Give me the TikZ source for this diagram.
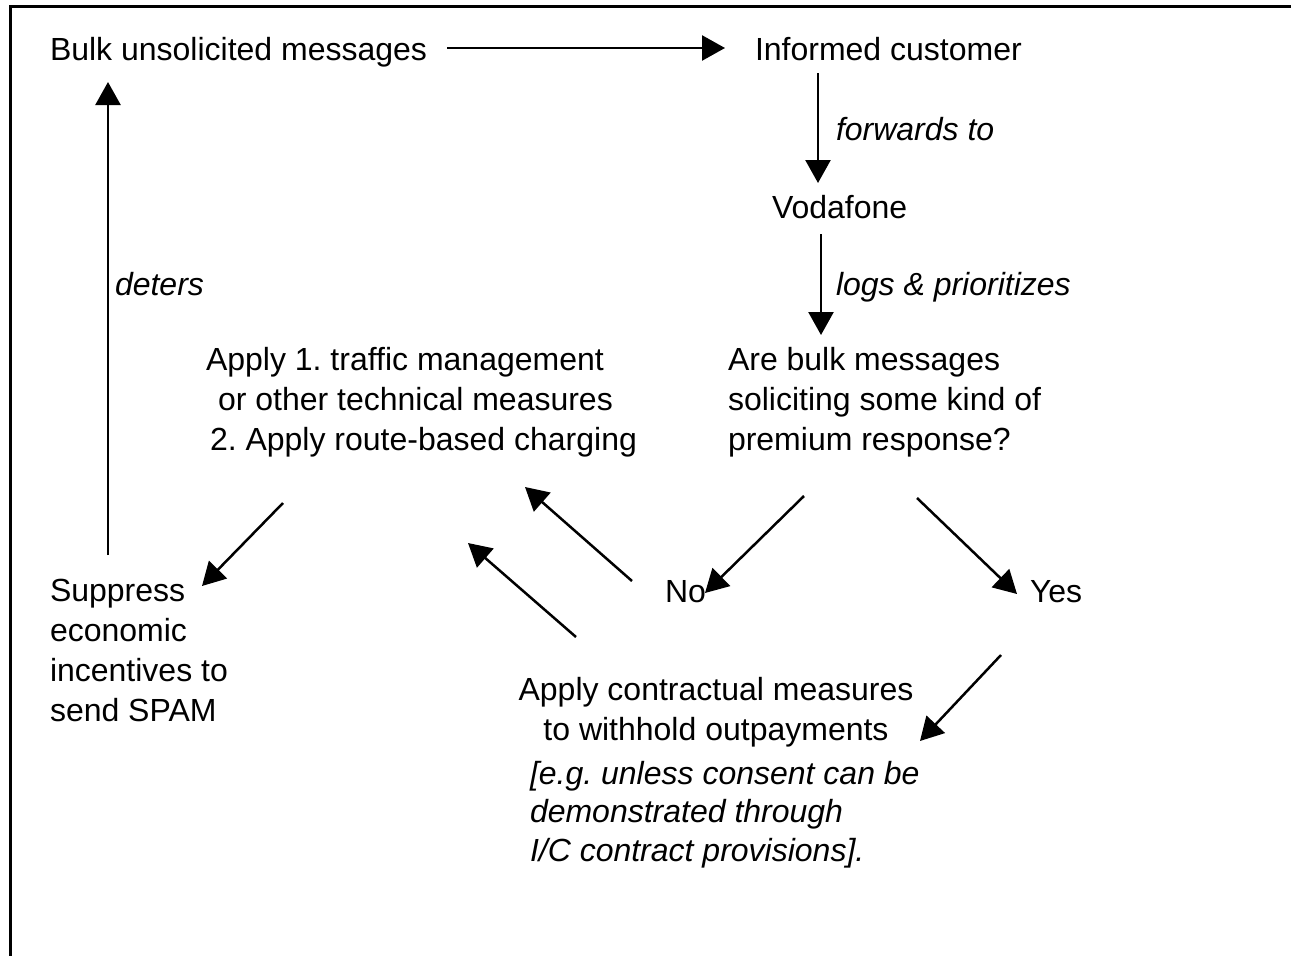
\documentclass[tikz,border=0pt]{standalone}
\usepackage{fontspec}
\setmainfont{Liberation Sans}
\usetikzlibrary{arrows.meta}
\frenchspacing
\begin{document}
\begin{tikzpicture}[x=1pt,y=-1pt,
  txt/.style={inner sep=0pt,outer sep=0pt,font=\fontsize{32}{40}\selectfont},
  itx/.style={txt,font=\fontsize{32}{40}\selectfont\itshape},
  flow/.style={line width=2.5pt,-{Triangle[length=23pt,width=25pt]}}]
\useasboundingbox (0,0) rectangle (1291,956);
% frame along the left and top edges
\draw[line width=3pt] (10,956) -- (10,6.5) -- (1291,6.5);

% texts
\node[txt,anchor=base west] (bulk) at (50,60) {Bulk unsolicited messages};
\node[txt,anchor=base west] (cust) at (755,60) {Informed customer};
\node[itx,anchor=base west] (fwd) at (836,140) {forwards to};
\node[txt,anchor=base west] (voda) at (772,218) {Vodafone};
\node[itx,anchor=base west] (logs) at (836,295) {logs \& prioritizes};
\node[itx,anchor=base west] (deters) at (115,295) {deters};
\node[txt,anchor=north west,align=left] (quest) at (728,347)
  {Are bulk messages\\soliciting some kind of\\premium response?};
\node[txt,anchor=north west,align=left] (tech) at (206,347)
  {Apply 1. traffic management\\\hspace*{12pt}or other technical measures\\\hspace*{4pt}2. Apply route-based charging};
\node[txt,anchor=north west,align=left] (supp) at (50,579)
  {Suppress\\economic\\incentives to\\send SPAM};
\node[txt,anchor=base west] (no) at (665,602) {No};
\node[txt,anchor=base west] (yes) at (1030,602) {Yes};
\node[txt,anchor=north,align=center] (contr) at (716,677)
  {Apply contractual measures\\to withhold outpayments};
\node[txt,anchor=north west,align=left,font=\fontsize{32}{38.5}\selectfont\itshape] (eg) at (530,761)
  {[e.g. unless consent can be\\demonstrated through\\I/C contract provisions].};

% connector end points
\coordinate (h1) at (447,48);   \coordinate (h2) at (725,48);
\coordinate (v1) at (818,73);   \coordinate (v2) at (818,183);
\coordinate (v3) at (821,234);  \coordinate (v4) at (821,335);
\coordinate (l1) at (108,555);  \coordinate (l2) at (108,82);
\coordinate (s1) at (283,503);  \coordinate (s2) at (202,586);
\coordinate (n1) at (632,581);  \coordinate (n2) at (525,487);
\coordinate (c1) at (576,637);  \coordinate (c2) at (468,543);
\coordinate (q1) at (804,496);  \coordinate (q2) at (705,593);
\coordinate (q3) at (917,498);  \coordinate (q4) at (1017,594);
\coordinate (y1) at (1001,655); \coordinate (y2) at (920,741);

% connectors
\draw[flow] (h1) -- (h2);
\draw[flow] (v1) -- (v2);
\draw[flow] (v3) -- (v4);
\draw[flow] (l1) -- (l2);
\draw[flow] (s1) -- (s2);
\draw[flow] (n1) -- (n2);
\draw[flow] (c1) -- (c2);
\draw[flow] (q1) -- (q2);
\draw[flow] (q3) -- (q4);
\draw[flow] (y1) -- (y2);
\end{tikzpicture}
\end{document}
